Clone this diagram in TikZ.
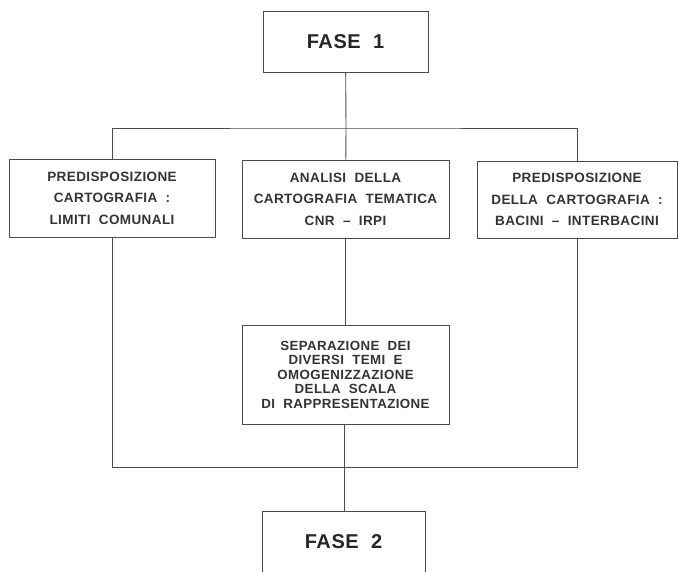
\documentclass[tikz,border=0pt]{standalone}
\usepackage{fontspec}
\setmainfont{Liberation Sans}
\newfontfamily\boxfont[LetterSpace=3, WordSpace=2]{Liberation Sans}
\usetikzlibrary{positioning}

\begin{document}
\begin{tikzpicture}[
        x=1pt, y=-1pt,
        phase/.style={draw=black!70, line width=0.9pt, minimum width=165pt, minimum height=61pt, inner sep=0pt, font=\boxfont\bfseries\fontsize{20}{24}\selectfont, text=black!85},
        task/.style={draw=black!70, line width=0.9pt, minimum width=206pt, minimum height=78pt, inner sep=0pt, align=center, font=\boxfont\bfseries\fontsize{13.5}{21.5}\selectfont, text=black!80},
        link/.style={draw=black!70, line width=0.9pt}
    ]
        \clip (0,0) rectangle (679,571);

        % Fasi
        \node[phase] (fase1) at (345.5,42) {FASE 1};
        \node[phase, minimum width=163pt] (fase2) at (343.5,542) {FASE 2};

        % Attivita
        \node[task] (limiti) at (112,198) {PREDISPOSIZIONE\\CARTOGRAFIA :\\LIMITI COMUNALI};
        \node[task, minimum width=207pt] (analisi) at (345.5,199) {ANALISI DELLA\\CARTOGRAFIA TEMATICA\\CNR \textendash{} IRPI};
        \node[task, minimum width=200pt, minimum height=77pt] (bacini) at (577,199.5) {PREDISPOSIZIONE\\DELLA CARTOGRAFIA :\\BACINI \textendash{} INTERBACINI};
        \node[task, minimum width=207pt, minimum height=99pt, font=\boxfont\bfseries\fontsize{13.3}{14.5}\selectfont] (temi) at (345.5,374.5) {SEPARAZIONE DEI\\DIVERSI TEMI E\\OMOGENIZZAZIONE\\DELLA SCALA\\DI RAPPRESENTAZIONE};

        % Collegamenti
        \coordinate (split) at (346,128);
        \coordinate (join) at (344,467);
        \draw[link] (fase1) -- (split);
        \draw[link] (limiti.north) |- (split) -| (bacini.north);
        \draw[link] (split) -- (analisi);
        \draw[link] (analisi) -- (temi);
        \draw[link] (limiti.south) |- (join) -| (bacini.south);
        \draw[link] (temi.south -| join) -- (fase2.north -| join);
    \end{tikzpicture}
\end{document}
